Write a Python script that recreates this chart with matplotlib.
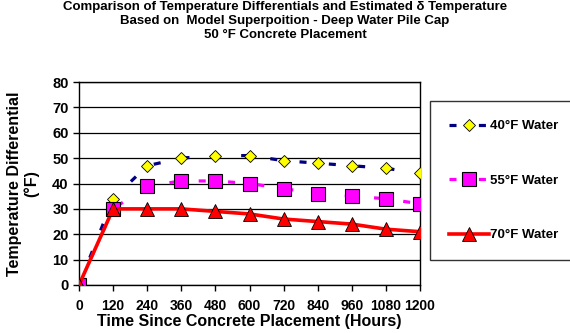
import matplotlib
matplotlib.use("Agg")
import matplotlib.pyplot as plt

hours = [0, 120, 240, 360, 480, 600, 720, 840, 960, 1080, 1200]
water40 = [0, 34, 47, 50, 51, 51, 49, 48, 47, 46, 44]
water55 = [0, 30, 39, 41, 41, 40, 38, 36, 35, 34, 32]
water70 = [0, 30, 30, 30, 29, 28, 26, 25, 24, 22, 21]
labels = ["40°F Water", "55°F Water", "70°F Water"]
title = ("Comparison of Temperature Differentials and Estimated δ Temperature\n"
         "Based on  Model Superpoition - Deep Water Pile Cap\n"
         "50 °F Concrete Placement")

plt.rcParams['font.family'] = ['Liberation Sans', 'DejaVu Sans']
plt.rcParams['font.weight'] = 'bold'

fig = plt.figure(figsize=(5.7, 3.33), dpi=100)
ax = fig.add_axes([79/570, 1-285/333, (420-79)/570, (285-82)/333])

l1, = ax.plot(hours, water40, color='#000080', lw=2.3, dashes=(2.2, 7),
              marker='D', ms=6.5, mfc='#FFFF00', mec='#000000', mew=0.6, zorder=3)
l2, = ax.plot(hours, water55, color='#FF00FF', lw=2.3, dashes=(2.2, 7),
              marker='s', ms=10, mfc='#FF00FF', mec='#000000', mew=0.8, zorder=3)
l3, = ax.plot(hours, water70, color='#FF0000', lw=2.6,
              marker='^', ms=9.5, mfc='#FF0000', mec='#000000', mew=0.6, zorder=4)

ax.set_xlim(0, 1200)
ax.set_ylim(0, 80)
ax.set_xticks(hours)
ax.set_yticks(range(0, 81, 10))
ax.yaxis.grid(True, color='black', lw=0.9)
ax.set_axisbelow(True)
for s in ax.spines.values():
    s.set_linewidth(1.0)
ax.tick_params(axis='both', length=4, width=1, direction='out')
ax.tick_params(axis='y', labelsize=10.5)
ax.tick_params(axis='x', labelsize=10, pad=6)
for t in ax.get_xticklabels() + ax.get_yticklabels():
    t.set_fontweight('bold')

ax.set_xlabel("Time Since Concrete Placement (Hours)", fontsize=11.5, fontweight='bold', labelpad=1)
ax.set_ylabel("Temperature Differential\n(°F)", fontsize=11.5, fontweight='bold', labelpad=9)

fig.text(0.5, 0.997, title, ha='center', va='top', fontsize=9.5, fontweight='bold', linespacing=1.22)

leg = fig.legend([l1, l2, l3], labels, loc='upper left',
                 bbox_to_anchor=(430/570, 1-101/333), frameon=True, fancybox=False,
                 edgecolor='black', fontsize=9.5, labelspacing=3.2, borderpad=1.45,
                 handlelength=3.0, handletextpad=0.1, borderaxespad=0)
leg.get_frame().set_linewidth(1.0)
for t in leg.get_texts():
    t.set_fontweight('bold')

fig.savefig("out.png", dpi=100)
